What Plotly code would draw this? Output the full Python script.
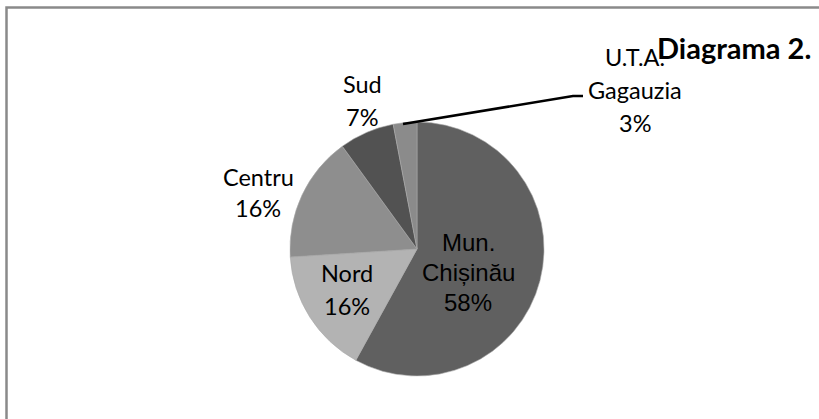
import plotly.graph_objects as go

W, H = 819, 419

regions = ["Mun. Chișinău", "Nord", "Centru", "Sud", "U.T.A. Gagauzia"]
label_lines = [["Mun.", "Chișinău"], ["Nord"], ["Centru"], ["Sud"], ["U.T.A.", "Gagauzia"]]
shares = [58, 16, 16, 7, 3]
colors = ["#606060", "#b3b3b3", "#8e8e8e", "#525252", "#8b8b8b"]
title_text = "Diagrama 2."

# label anchor positions (pixel centres of first line) and line spacing
label_pos = [(468, 242), (347, 273), (258, 177), (362, 84), (635, 57)]
label_fonts = ["Liberation Sans", "Lato", "Lato", "Lato", "Lato"]
label_sizes = [24, 23.5, 23.5, 23.5, 23.5]
line_gap = [30, 33, 31, 33, 33]

fig = go.Figure()

cx, cy, r = 417, 249, 127
fig.add_trace(go.Pie(
    labels=regions,
    values=shares,
    sort=False,
    direction="clockwise",
    rotation=0,
    textinfo="none",
    hoverinfo="label+percent",
    marker=dict(colors=colors, line=dict(color="#a8a8a8", width=0.6)),
    domain=dict(x=[(cx - r) / W, (cx + r) / W], y=[(H - cy - r) / H, (H - cy + r) / H]),
    showlegend=False,
))

def px(x):
    return x / W

def py(y):
    return 1 - y / H

for lines, share, (x0, y0), fnt, sz, gap in zip(label_lines, shares, label_pos, label_fonts, label_sizes, line_gap):
    all_lines = lines + [f"{share}%"]
    for i, t in enumerate(all_lines):
        fig.add_annotation(
            x=px(x0), y=py(y0 + i * gap), xref="paper", yref="paper",
            text=t, showarrow=False, xanchor="center", yanchor="middle",
            font=dict(family=fnt, size=sz, color="#000000"),
        )

fig.add_annotation(
    x=px(813), y=py(47), xref="paper", yref="paper",
    text=f"<b>{title_text}</b>", showarrow=False, xanchor="right", yanchor="middle",
    font=dict(family="Lato", size=29, color="#000000"),
)

# leader line for Gagauzia
fig.add_shape(type="path", xref="paper", yref="paper",
              path=f"M {px(403)} {py(124)} L {px(573)} {py(96)} L {px(583)} {py(96)}",
              line=dict(color="#000000", width=2.5))

# frame (top and left edges)
fig.add_shape(type="path", xref="paper", yref="paper",
              path=f"M {px(6.5)} 0 L {px(6.5)} {py(7.5)} L 1 {py(7.5)}",
              line=dict(color="#8a8a8a", width=2.5))

fig.update_layout(
    width=W, height=H,
    margin=dict(l=0, r=0, t=0, b=0),
    paper_bgcolor="#ffffff",
    plot_bgcolor="#ffffff",
)

fig.write_html("out.html", config={"displayModeBar": False},
               post_script="document.body.style.margin='0';")
